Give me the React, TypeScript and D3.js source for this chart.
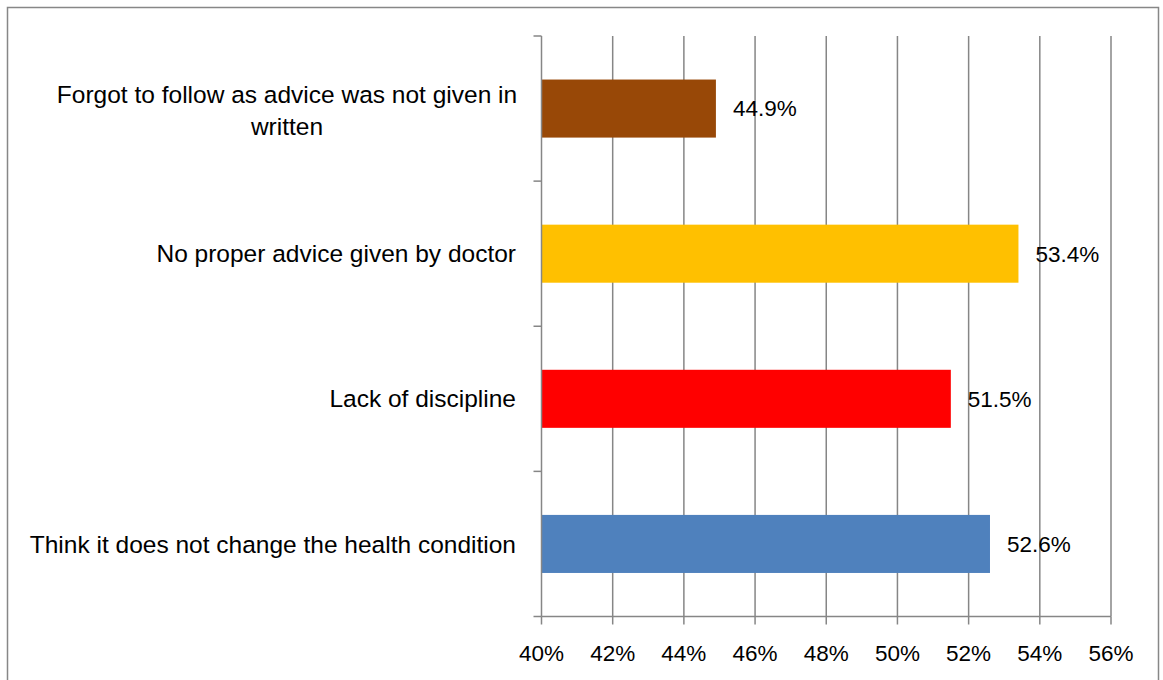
import React from "react";
import * as d3 from "d3";

const categories = [
  "Forgot to follow as advice was not given in written",
  "No proper advice given by doctor",
  "Lack of discipline",
  "Think it does not change the health condition",
];
const categoryLines = [
  ["Forgot to follow as advice was not given in", "written"],
  ["No proper advice given by doctor"],
  ["Lack of discipline"],
  ["Think it does not change the health condition"],
];
const values = [44.9, 53.4, 51.5, 52.6];
const barColors = ["#984807", "#FFC000", "#FF0000", "#4F81BD"];
const xTicks = [40, 42, 44, 46, 48, 50, 52, 54, 56];

const W = 1163;
const H = 680;
const FONT = "'Liberation Sans', Arial, sans-serif";
const GRID = "#868686";

export default function App() {
  const x = d3.scaleLinear().domain([40, 56]).range([541.5, 1111]);
  const y = d3
    .scaleBand<string>()
    .domain(categories)
    .range([36, 616.5])
    .paddingInner(0.6)
    .paddingOuter(0.3);
  const step = y.step();
  const top = 36;
  const bottom = 616.5;
  const boundaries = d3.range(categories.length + 1).map((i) => top + i * step);

  return (
    <svg
      width={W}
      height={H}
      style={{ position: "absolute", left: 0, top: 0, background: "#fff" }}
    >
      <rect x={7.5} y={7.5} width={1151} height={700} fill="#fff" stroke="#878787" strokeWidth={1.5} />
      {xTicks.slice(1).map((t) => (
        <line key={"g" + t} x1={x(t)} x2={x(t)} y1={top} y2={bottom} stroke={GRID} strokeWidth={1.5} />
      ))}
      {categories.map((c, i) => (
        <rect
          key={c}
          x={x(40)}
          y={y(c)!}
          width={x(values[i]) - x(40)}
          height={y.bandwidth()}
          fill={barColors[i]}
        />
      ))}
      <line x1={x(40)} x2={x(40)} y1={top} y2={bottom} stroke={GRID} strokeWidth={1.5} />
      {boundaries.map((b, i) => (
        <line key={"yt" + i} x1={x(40) - 8} x2={x(40)} y1={b} y2={b} stroke={GRID} strokeWidth={1.5} />
      ))}
      <line x1={x(40)} x2={x(56)} y1={bottom} y2={bottom} stroke={GRID} strokeWidth={1.5} />
      {xTicks.map((t) => (
        <line key={"xt" + t} x1={x(t)} x2={x(t)} y1={bottom} y2={bottom + 8} stroke={GRID} strokeWidth={1.5} />
      ))}
      {xTicks.map((t) => (
        <text
          key={"xl" + t}
          x={x(t)}
          y={653}
          dy="0.35em"
          textAnchor="middle"
          fontFamily={FONT}
          fontSize={22.5}
          fill="#000"
        >
          {t + "%"}
        </text>
      ))}
      {categories.map((c, i) => {
        const cy = y(c)! + y.bandwidth() / 2;
        const lines = categoryLines[i];
        const lh = 32;
        if (lines.length === 1) {
          return (
            <text key={"cl" + i} x={516} y={cy} dy="0.35em" textAnchor="end" fontFamily={FONT} fontSize={24.5} fill="#000">
              {lines[0]}
            </text>
          );
        }
        return (
          <text key={"cl" + i} x={287} textAnchor="middle" fontFamily={FONT} fontSize={24.5} fill="#000">
            {lines.map((l, j) => (
              <tspan key={j} x={287} y={cy + 2 + (j - (lines.length - 1) / 2) * lh} dy="0.35em">
                {l}
              </tspan>
            ))}
          </text>
        );
      })}
      {categories.map((c, i) => (
        <text
          key={"v" + i}
          x={x(values[i]) + 17}
          y={y(c)! + y.bandwidth() / 2}
          dy="0.35em"
          fontFamily={FONT}
          fontSize={22.5}
          fill="#000"
        >
          {values[i].toFixed(1) + "%"}
        </text>
      ))}
    </svg>
  );
}
